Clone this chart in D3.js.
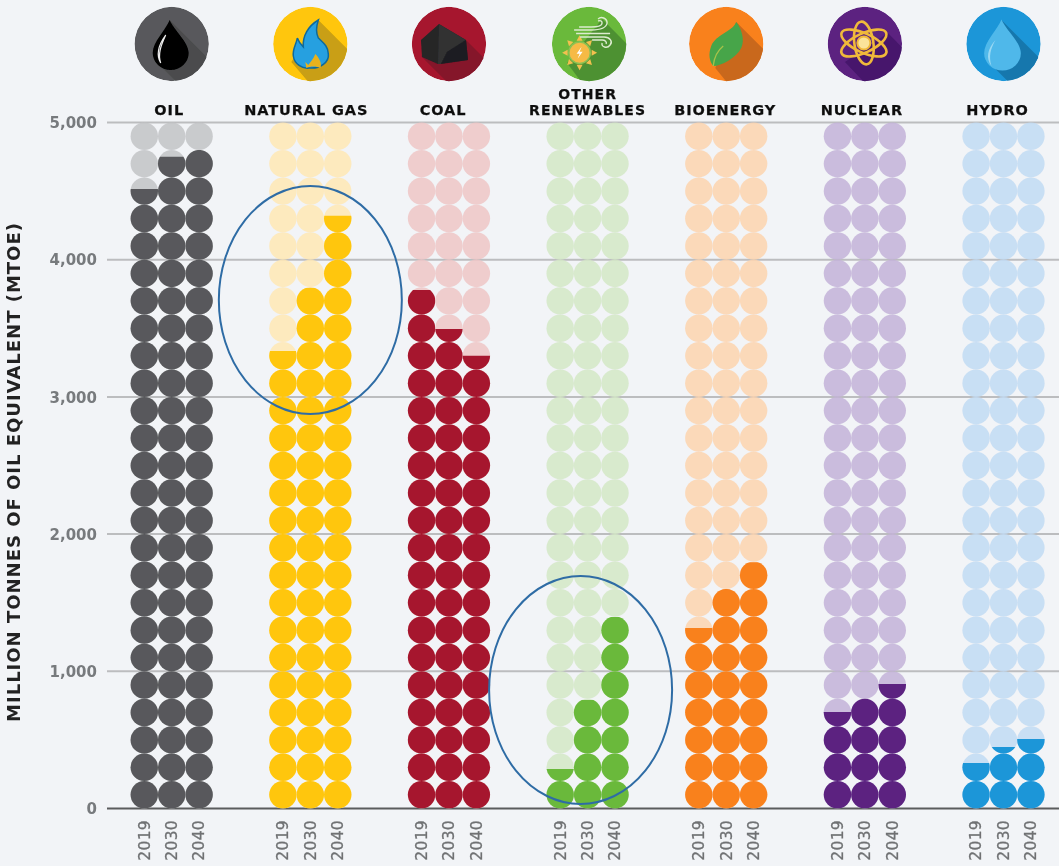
<!DOCTYPE html>
<html>
<head>
<meta charset="utf-8">
<script src="https://cdn.jsdelivr.net/npm/d3@7"></script>
<style>
html,body{margin:0;padding:0;background:#f2f4f7;overflow:hidden}
svg{display:block}
text{font-family:"DejaVu Sans",sans-serif}
</style>
</head>
<body>
<div id="chart"></div>
<script>
// ---- data ----
const categories = ["OIL","NATURAL GAS","COAL","OTHER RENEWABLES","BIOENERGY","NUCLEAR","HYDRO"];
const years = ["2019","2030","2040"];
const oilValues = [4515,4750,4800];
const gasValues = [3335,3795,4320];
const coalValues = [3780,3495,3300];
const renewableValues = [288,790,1395];
const bioenergyValues = [1315,1600,1795];
const nuclearValues = [703,800,907];
const hydroValues = [332,448,507];
const seriesValues = [oilValues,gasValues,coalValues,renewableValues,bioenergyValues,nuclearValues,hydroValues];
const yTicks = [0,1000,2000,3000,4000,5000];
const yTitle = "MILLION TONNES OF OIL EQUIVALENT (MTOE)";
const unitPerCircle = 200;
const circlesPerColumn = 25;
const highlighted = ["NATURAL GAS","OTHER RENEWABLES"];

// ---- styles / layout ----
const colors = ["#58595b","#ffc60b","#a6192e","#6ab93b","#f9811e","#5b2380","#1b96d8"];
const lightColors = ["#c2c3c5","#ffe7b4","#eec5c6","#d4e8c6","#fdd4ae","#c3b2d8","#c1daf3"];
const shadowColors = ["#4b4c4e","#c99f12","#85122a","#4e9130","#c9681c","#47196c","#1877ad"];
const W = 1059, H = 866;
const labelDx = [-2.5,-4,-6,0,-1,-3,-6];

const svg = d3.select("#chart").append("svg").attr("width",W).attr("height",H);
const defs = svg.append("defs");
defs.append("filter").attr("id","soft").attr("x","-2%").attr("y","-2%").attr("width","104%").attr("height","104%")
  .append("feGaussianBlur").attr("stdDeviation",0.45);
const root = svg.append("g").attr("filter","url(#soft)");
root.append("rect").attr("width",W).attr("height",H).attr("fill","#f2f4f7");

const y = d3.scaleLinear().domain([0,5000]).range([808.5,122.5]);
const xCat = d3.scalePoint().domain(categories).range([171.7,1003.5]);
const xYear = d3.scalePoint().domain(years).range([-27.4,27.4]);
const step = y(0)-y(unitPerCircle);
const r = step/2;

// ---- axis ----
const axis = d3.axisLeft(y).tickValues(yTicks).tickFormat(d3.format(",")).tickSize(0).tickPadding(0);
const gAxis = root.append("g").attr("transform","translate(97,0)").call(axis);
gAxis.select(".domain").remove();
gAxis.selectAll("text").attr("font-size",15).attr("font-weight",700).attr("fill","#777a7d")
  .style("font-family",'"DejaVu Sans",sans-serif').attr("dy","0.35em");
root.append("g").selectAll("line").data(yTicks).join("line")
  .attr("x1",107).attr("x2",W).attr("y1",d=>y(d)).attr("y2",d=>y(d))
  .attr("stroke",d=>d===0?"#5a5b5d":"#bcbdbf").attr("stroke-width",d=>d===0?2.2:2);

root.append("text").attr("transform",`translate(20,472) rotate(-90)`)
  .attr("text-anchor","middle").attr("font-size",18).attr("font-weight",700).attr("fill","#222")
  .attr("letter-spacing",1.0).text(yTitle);

// ---- dots ----
const rows = d3.range(circlesPerColumn);
categories.forEach((cat,i)=>{
  const g = root.append("g");
  years.forEach((yr,j)=>{
    const cx = xCat(cat)+xYear(yr);
    const v = seriesValues[i][j];
    const id = `clip-${i}-${j}`;
    defs.append("clipPath").attr("id",id).append("rect")
      .attr("x",cx-r-1).attr("width",2*r+2).attr("y",y(v)).attr("height",y(0)-y(v));
    g.append("g").selectAll("circle").data(rows).join("circle")
      .attr("cx",cx).attr("cy",d=>y(d*unitPerCircle)-r).attr("r",r)
      .attr("fill",lightColors[i]).attr("fill-opacity",0.85);
    g.append("g").attr("clip-path",`url(#${id})`).selectAll("circle").data(rows).join("circle")
      .attr("cx",cx).attr("cy",d=>y(d*unitPerCircle)-r).attr("r",r)
      .attr("fill",colors[i]);
    root.append("text").attr("transform",`translate(${cx+5.3},820) rotate(-90)`)
      .attr("text-anchor","end").attr("font-size",15.5).attr("font-weight",500).attr("letter-spacing",0.3)
      .attr("fill","#6f7173").attr("stroke","#6f7173").attr("stroke-width",0.3).text(yr);
  });
});

// ---- category labels ----
categories.forEach((cat,i)=>{
  const t = root.append("text").attr("text-anchor","middle").attr("font-weight",700)
    .attr("font-size",14.5).attr("fill","#111").attr("letter-spacing",0.9)
    .attr("stroke","#111").attr("stroke-width",0.25)
    .attr("x",xCat(cat)+labelDx[i]);
  if(cat==="OTHER RENEWABLES"){
    t.attr("font-size",14).attr("letter-spacing",1.05);
    t.append("tspan").attr("x",xCat(cat)).attr("y",99).text("OTHER");
    t.append("tspan").attr("x",xCat(cat)).attr("y",114.5).text("RENEWABLES");
  } else {
    t.attr("y",115).text(cat);
  }
});

// ---- icons ----
const iconR = 37.2, iconY = 44;
const dropPath = s=>`M${-2*s} ${-24*s}C${2*s} ${-14*s} ${17*s} ${-2*s} ${17*s} ${9*s}A${18*s} ${17*s} 0 0 1 ${-19*s} ${9*s}C${-19*s} ${-2*s} ${-6*s} ${-14*s} ${-2*s} ${-24*s}Z`;
const shadows = [
  "M-2 -24L60 38L25 58L-15 18Z",
  "M8 -24L60 28L22 66L-19 18Z",
  "M17 -4L67 46L23 63L-27 13Z",
  "M13 -25L60 22L16 70L-22 19Z",
  "M10 -22L60 28L20 62L-11 24Z",
  "M23 -11L60 26L20 60L-20 18Z",
  "M-2 -24L60 38L25 58L-15 18Z"
];
categories.forEach((cat,i)=>{
  const cx = xCat(cat)+[0,0,0,1.5,0,0,0][i];
  const g = root.append("g").attr("transform",`translate(${cx},${iconY})`);
  const id = `icon-${i}`;
  defs.append("clipPath").attr("id",id).append("circle").attr("r",iconR);
  const bg = g.append("g").attr("clip-path",`url(#${id})`);
  bg.append("circle").attr("r",iconR).attr("fill",colors[i]);
  bg.append("path").attr("d",shadows[i]).attr("fill",shadowColors[i]);
  if(i===0){
    g.append("path").attr("d",dropPath(1)).attr("fill","#000");
    g.append("path").attr("d","M-6 -9C-14 2 -15 12 -11 19C-14 10 -11 2 -6 -9Z").attr("fill","none").attr("stroke","#eee").attr("stroke-width",1.2);
  } else if(i===1){
    g.append("path").attr("d","M8 -24C-2 -18 -8 -8 -7 3C-10 0 -12 -3 -13 -6C-14 0 -18 5 -17 12C-16 20 -8 25 -1 24C10 25 19 18 18 10C18 2 12 -2 8 -6C5 -12 6 -18 8 -24Z")
      .attr("fill","#25a0e0").attr("stroke","#0d6a9d").attr("stroke-width",1.5);
    g.append("path").attr("d","M-4 24L-5 18L-2 21C0 18 3 15 5 10C9 14 12 20 10 24C6 22 0 22 -4 24Z").attr("fill","#e8b21f");
  } else if(i===2){
    g.append("path").attr("d","M-10 -20L-28 -4L-27 13L-11 20L19 16L17 -4Z").attr("fill","#262628");
    g.append("path").attr("d","M-10 -20L17 -4L-2 8L-8 20L-11 20Z").attr("fill","#303133");
    g.append("path").attr("d","M17 -4L-2 8L-8 20L19 16Z").attr("fill","#1f1f21");
  } else if(i===3){
    const sun = g.append("g").attr("transform","translate(-9.5,8.7)");
    d3.range(8).forEach(k=>{
      sun.append("path").attr("d","M-3 -12L0 -17.5L3 -12Z").attr("fill","#f3c04f").attr("transform",`rotate(${k*45})`);
    });
    sun.append("circle").attr("r",11.5).attr("fill","#8cc152");
    sun.append("circle").attr("r",10).attr("fill","#f6ba45");
    sun.append("path").attr("d","M2 -6L-3 1L0 1L-2 6L3 -1L0 -1Z").attr("fill","#fff");
    const wind = g.append("g").attr("fill","none").attr("stroke","#dcebd0").attr("stroke-width",1.4);
    wind.append("path").attr("d","M-15 -14H2C10 -14 17 -15 18 -21C18 -26 12 -28 9 -25");
    wind.append("path").attr("d","M-10 -17H2C8 -17 13 -18 13 -21C13 -23 11 -24 9 -23");
    wind.append("path").attr("d","M-13 -10.5H21");
    wind.append("path").attr("d","M-9 -7H15C21 -7 24 -2 21 1C18 5 12 3 13 -1");
    wind.append("path").attr("d","M3 -4H13C16 -4 18 -2 17 0");
  } else if(i===4){
    g.append("path").attr("d","M10 -22C6 -12 -10 -10 -15 2C-18 10 -17 17 -13 22C-5 22 10 14 15 4C19 -4 15 -16 10 -22Z").attr("fill","#46a549");
    g.append("path").attr("d","M-13 22C-12 12 -8 6 -3 2").attr("fill","none").attr("stroke","#a8c24a").attr("stroke-width",1.3);
  } else if(i===5){
    const a = g.append("g").attr("transform","translate(-1,-1)");
    [25,82,-25].forEach((rot,k)=>{
      a.append("ellipse").attr("rx",k===1?21.5:24.5).attr("ry",9.5).attr("transform",`rotate(${rot})`)
        .attr("fill","none").attr("stroke","#f0b93a").attr("stroke-width",2.6);
    });
    a.append("circle").attr("r",6.5).attr("fill","#fbe39a").attr("stroke","#f0b93a").attr("stroke-width",2);
  } else {
    g.append("path").attr("d",dropPath(1.02)).attr("fill","#4fb8ea");
    g.append("path").attr("d","M-8 -4C-16 5 -18 14 -12 22C-15 12 -13 5 -8 -4Z").attr("fill","#9ad8f3");
  }
});

// ---- annotation ellipses ----
const ring = [{c:"NATURAL GAS",dx:0,cy:300},{c:"OTHER RENEWABLES",dx:-7,cy:690}];
root.append("g").selectAll("ellipse").data(highlighted).join("ellipse")
  .attr("cx",(d,i)=>xCat(d)+ring[i].dx).attr("cy",(d,i)=>ring[i].cy)
  .attr("rx",91.5).attr("ry",114)
  .attr("fill","none").attr("stroke","#2f6ca5").attr("stroke-width",2);
</script>
</body>
</html>
